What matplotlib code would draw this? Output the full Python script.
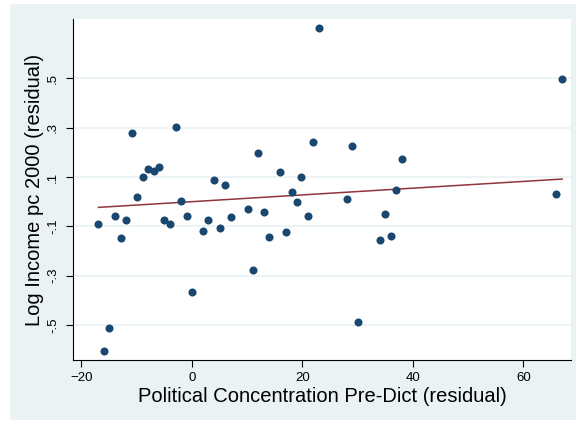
import numpy as np
import matplotlib.pyplot as plt
from matplotlib.patches import Rectangle

# residual data
pol_conc = [-16.9, -15.9, -15.0, -13.9, -12.8, -11.9, -10.9, -9.9, -8.9, -8.0,
            -6.9, -5.9, -5.0, -4.0, -2.9, -1.9, -0.9, 0.0, 2.0, 3.0,
            4.1, 5.1, 6.0, 7.1, 10.1, 11.0, 12.0, 13.1, 14.0, 16.0,
            17.0, 18.1, 19.0, 19.8, 21.0, 22.0, 23.0, 28.0, 29.0, 30.0,
            34.0, 35.0, 36.0, 37.0, 38.0, 65.9, 67.0]
log_income = [-0.092, -0.606, -0.511, -0.058, -0.149, -0.074, 0.280, 0.020, 0.101, 0.131,
              0.123, 0.140, -0.074, -0.089, 0.304, 0.004, -0.057, -0.365, -0.119, -0.076,
              0.089, -0.107, 0.066, -0.062, -0.030, -0.275, 0.199, -0.042, -0.145, 0.119,
              -0.122, 0.041, 0.000, 0.099, -0.058, 0.243, 0.705, 0.011, 0.226, -0.487,
              -0.154, -0.051, -0.140, 0.047, 0.175, 0.032, 0.498]
# fitted line as shown (intercept, slope)
fit_intercept = 0.0001
fit_slope = 0.00137

xticks = [-20, 0, 20, 40, 60]
yticks = [-0.5, -0.3, -0.1, 0.1, 0.3, 0.5]
ytick_labels = ['-.5', '-.3', '-.1', '.1', '.3', '.5']

plt.rcParams['font.family'] = ['Liberation Sans', 'DejaVu Sans']

fig = plt.figure(figsize=(5.76, 4.21), dpi=100)
fig.patches.append(Rectangle((10 / 576, 0.002), 1, 0.9885, transform=fig.transFigure,
                             facecolor='#EAF2F3', edgecolor='none', zorder=-5))
ax = fig.add_axes([73 / 576, 61 / 421, 498 / 576, 341 / 421])
ax.set_facecolor('white')

x = np.array(pol_conc)
y = np.array(log_income)
ax.plot(x, y, 'o', color='#1A476F', markersize=5.8, markeredgewidth=0, zorder=3)

# linear fit over the data range
xs = np.array([x.min(), x.max()])
ax.plot(xs, fit_intercept + fit_slope * xs, color='#90353B', lw=1.1, zorder=2)

ax.set_xlim(-21.5, 68.6)
ax.set_ylim(-0.642, 0.741)
ax.set_xticks(xticks)
ax.set_yticks(yticks)
ax.set_yticklabels(ytick_labels, rotation=90, va='center')
ax.tick_params(labelsize=9.5, length=5, width=0.8)
ax.tick_params(axis='y', pad=5)
ax.grid(axis='y', color='#EAF2F3', lw=1.2)
ax.set_axisbelow(True)
for s in ['top', 'right']:
    ax.spines[s].set_visible(False)

ax.set_xlabel('Political Concentration Pre-Dict (residual)', fontsize=14.5, labelpad=2)
ax.set_ylabel('Log Income pc 2000 (residual)', fontsize=14.5, labelpad=2)

fig.savefig('out.png', dpi=100)
